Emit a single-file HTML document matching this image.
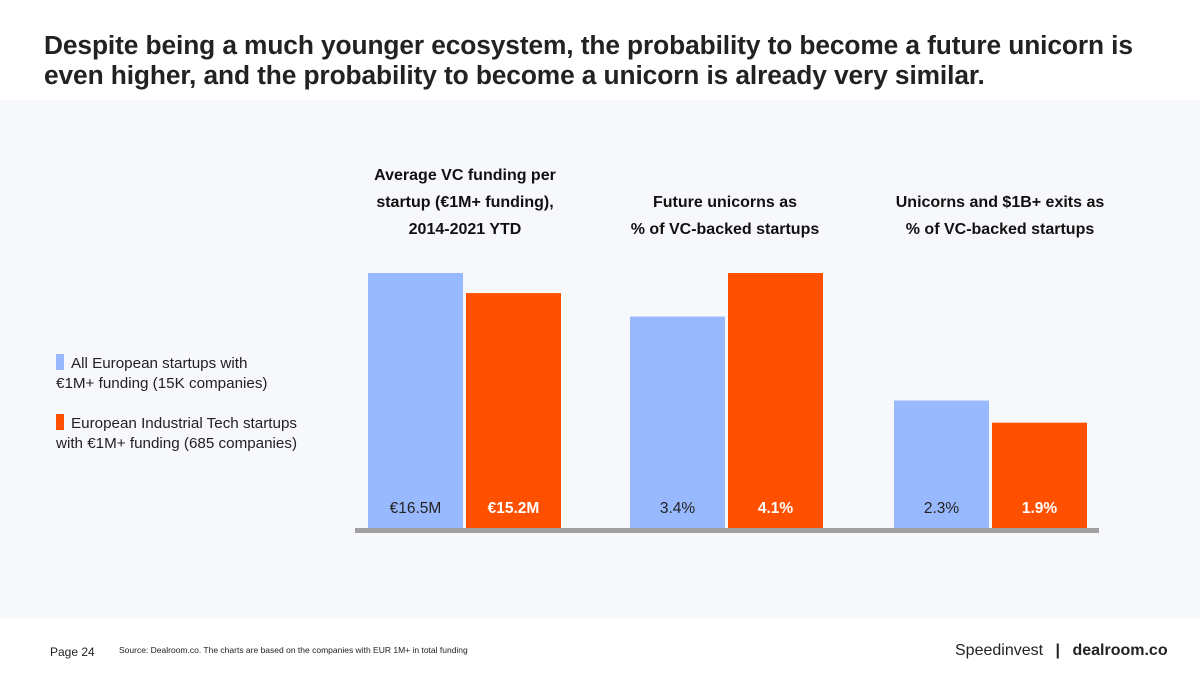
<!DOCTYPE html>
<html><head><meta charset="utf-8"><style>
body{margin:0;width:1200px;height:675px;background:#fff;font-family:"Liberation Sans",sans-serif;position:relative;overflow:hidden}
.t{position:absolute;left:44px;top:30px;font-size:26.3px;font-weight:bold;color:#222;line-height:30px;letter-spacing:-0.1px}
.band{position:absolute;left:0;top:100px;width:1200px;height:518px;background:#f7f8fc}
.leg{position:absolute;left:56px;font-size:15.2px;color:#222;line-height:20px}
.sw{display:inline-block;width:8px;height:16px;vertical-align:-2px;margin-right:7px}
.gt{position:absolute;font-size:16px;font-weight:bold;color:#111;text-align:center;line-height:27px}
.ft{position:absolute;font-size:12px;color:#222}
</style></head><body>
<div class="t">Despite being a much younger ecosystem, the probability to become a future unicorn is<br>even higher, and the probability to become a unicorn is already very similar.</div>
<div class="band"></div>
<div class="leg" style="top:354px"><span class="sw" style="background:#99b9ff"></span>All European startups with<br>€1M+ funding (15K companies)</div>
<div class="leg" style="top:414px"><span class="sw" style="background:#ff5000"></span>European Industrial Tech startups<br>with €1M+ funding (685 companies)</div>
<div class="gt" style="left:330px;width:270px;top:162px">Average VC funding per<br>startup (€1M+ funding),<br>2014-2021 YTD</div>
<div class="gt" style="left:590px;width:270px;top:189px">Future unicorns as<br>% of VC-backed startups</div>
<div class="gt" style="left:865px;width:270px;top:189px">Unicorns and $1B+ exits as<br>% of VC-backed startups</div>
<svg id="ch" width="1200" height="675" style="position:absolute;left:0;top:0"></svg>
<div class="ft" style="left:50px;top:645px">Page 24</div>
<div class="ft" style="left:119px;top:645px;font-size:8.5px">Source: Dealroom.co. The charts are based on the companies with EUR 1M+ in total funding</div>
<div class="ft" style="left:955px;top:642px;font-size:16px">Speedinvest <span style="margin:0 8px;font-weight:bold">|</span> <b>dealroom.co</b></div>
<script>
const groups=["Average VC funding","Future unicorns","Unicorns and exits"];
const allEurope=[16.5,3.4,2.3];
const industrial=[15.2,4.1,1.9];
const labelsAll=["€16.5M","3.4%","2.3%"];
const labelsInd=["€15.2M","4.1%","1.9%"];
const groupMax=[16.5,4.1,4.6];
const svg=document.getElementById('ch');const NS="http://www.w3.org/2000/svg";
const base=528,H=255,gx=[368,630,894],bw=95;
function y(v,g){return base-v/groupMax[g]*H;}
function rect(x,v,g,c,n){const r=document.createElementNS(NS,'rect');r.setAttribute('x',x);r.setAttribute('y',y(v,g));r.setAttribute('width',bw);r.setAttribute('height',base-y(v,g));r.setAttribute('fill',c);


svg.appendChild(r);}
function txt(x,s,c,b,n){const t=document.createElementNS(NS,'text');t.setAttribute('x',x+bw/2);t.setAttribute('y',513);t.setAttribute('text-anchor','middle');t.setAttribute('font-size','15.5');t.setAttribute('fill',c);if(b)t.setAttribute('font-weight','bold');t.textContent=s;


svg.appendChild(t);}
groups.forEach((g,i)=>{rect(gx[i],allEurope[i],i,'#99b9ff','bar-all-europe-'+i);rect(gx[i]+98,industrial[i],i,'#ff5000','bar-industrial-'+i);
txt(gx[i],labelsAll[i],'#222',false,'value-label-all-'+i);txt(gx[i]+98,labelsInd[i],'#fff',true,'value-label-industrial-'+i);});
const ax=document.createElementNS(NS,'rect');ax.setAttribute('x',355);ax.setAttribute('y',528);ax.setAttribute('width',744);ax.setAttribute('height',5);ax.setAttribute('fill','#a0a0a0');


svg.appendChild(ax);
</script>
</body></html>
